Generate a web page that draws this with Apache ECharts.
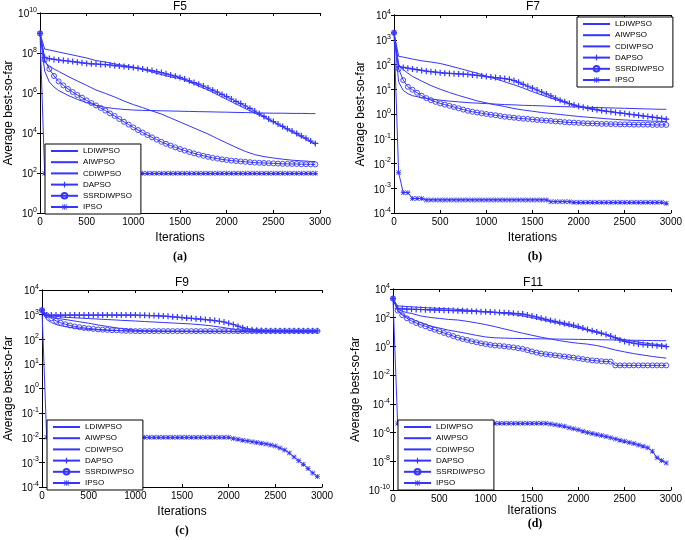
<!DOCTYPE html>
<html><head><meta charset="utf-8">
<script src="https://cdn.jsdelivr.net/npm/echarts@6/dist/echarts.min.js"></script>
<style>html,body{margin:0;padding:0;background:#fff}#c{width:685px;height:540px}</style>
</head><body><div id="c"></div>
<script>
// ---------- DATA ----------
const SERIES_NAMES = ['LDIWPSO','AIWPSO','CDIWPSO','DAPSO','SSRDIWPSO','IPSO'];
const PANEL_TITLES = ['F5','F7','F9','F11'];
const PANEL_LABELS = ['(a)','(b)','(c)','(d)'];
const X_AXIS_NAME = 'Iterations';
const Y_AXIS_NAME = 'Average best-so-far';
const X_MIN = 0, X_MAX = 3000, X_STEP = 500;
const Y_MIN = [1, 1e-4, 1e-4, 1e-10];
const Y_MAX = [1e10, 1e4, 1e4, 1e4];
const Y_STEP_DECADES = [2, 1, 1, 2];

// iterations for marker series
const ITER_M = [0,50,100,150,200,250,300,350,400,450,500,550,600,650,700,750,800,850,900,950,1000,1050,1100,1150,1200,1250,1300,1350,1400,1450,1500,1550,1600,1650,1700,1750,1800,1850,1900,1950,2000,2050,2100,2150,2200,2250,2300,2350,2400,2450,2500,2550,2600,2650,2700,2750,2800,2850,2900,2950];
// iterations for plain line series
const ITER_L = [0,50,100,150,200,300,400,500,600,700,800,900,1000,1100,1200,1300,1400,1500,1600,1700,1800,1900,2000,2100,2200,2300,2400,2500,2600,2700,2800,2900,2950];

// F5
const f5_LDIWPSO = [9.55e8,1.58e8,1.41e8,1.26e8,1.12e8,8.91e7,7.08e7,5.62e7,4.17e7,3.55e7,2.82e7,2.4e7,2e7,1.51e7,1.12e7,8.32e6,6.31e6,5.25e6,3.55e6,2.24e6,1.41e6,8.32e5,4.79e5,2.82e5,1.66e5,1e5,6.03e4,3.55e4,2e4,1.12e4,6.31e3,3.55e3,2.63e3];
const f5_AIWPSO = [9.55e8,3.55e7,2.24e7,1.58e7,1.2e7,6.76e6,3.98e6,2.4e6,1.41e6,9.55e5,6.31e5,3.98e5,2.63e5,1.86e5,1.26e5,8.91e4,5.62e4,3.55e4,2.24e4,1.41e4,8.91e3,5.25e3,3.16e3,1.91e3,1.2e3,832,661,562,490,437,407,380,372];
const f5_CDIWPSO = [9.55e8,1.26e7,3.55e6,2e6,1.32e6,7.59e5,4.79e5,3.31e5,2.4e5,1.91e5,1.66e5,1.51e5,1.41e5,1.35e5,1.32e5,1.29e5,1.26e5,1.23e5,1.2e5,1.17e5,1.15e5,1.12e5,1.1e5,1.07e5,1.05e5,1.02e5,1e5,9.77e4,9.77e4,9.55e4,9.55e4,9.33e4,9.33e4];
const f5_DAPSO = [9.55e8,6.03e7,5.25e7,4.79e7,4.47e7,4.17e7,3.98e7,3.72e7,3.47e7,3.24e7,3.02e7,2.88e7,2.82e7,2.69e7,2.63e7,2.51e7,2.34e7,2.24e7,2.09e7,2e7,1.86e7,1.74e7,1.58e7,1.45e7,1.32e7,1.17e7,1.05e7,9.12e6,7.94e6,6.92e6,6.03e6,5.01e6,4.07e6,3.31e6,2.75e6,2.24e6,1.78e6,1.38e6,1.1e6,8.51e5,6.61e5,5.01e5,3.8e5,2.95e5,2.24e5,1.7e5,1.26e5,9.12e4,6.76e4,5.01e4,3.72e4,2.82e4,2.14e4,1.62e4,1.26e4,9.55e3,7.24e3,5.5e3,3.98e3,3.02e3];
const f5_SSRDIWPSO = [9.55e8,4.47e7,1.58e7,7.08e6,3.8e6,2.4e6,1.58e6,1.12e6,7.94e5,5.89e5,4.27e5,3.16e5,2.4e5,1.78e5,1.32e5,9.55e4,7.08e4,5.01e4,3.63e4,2.63e4,1.91e4,1.41e4,1.05e4,7.94e3,6.03e3,4.68e3,3.63e3,2.88e3,2.34e3,1.91e3,1.58e3,1.32e3,1.12e3,955,832,724,646,575,525,479,447,417,398,380,363,347,331,324,316,309,302,295,288,288,282,282,275,275,269,269];
const f5_IPSO = [9.55e8,96,96,96,96,96,96,96,96,96,96,96,96,96,96,96,96,96,96,96,96,96,96,96,96,96,96,96,96,96,96,96,96,96,96,96,96,96,96,96,96,96,96,96,96,96,96,96,96,96,96,96,96,96,96,96,96,96,96,96];

// F7
const f7_LDIWPSO = [1.91e3,214,200,182,166,141,126,110,89.1,70.8,56.2,44.7,33.9,26.3,20,15.1,11.2,7.94,5.89,4.37,3.31,2.63,2.09,1.78,1.51,1.32,1.17,1.05,0.933,0.832,0.741,0.661,0.617];
const f7_AIWPSO = [1.91e3,100,63.1,44.7,33.1,21.4,14.1,10,7.41,5.62,4.37,3.39,2.82,2.34,2,1.66,1.45,1.29,1.15,1.05,0.955,0.871,0.794,0.741,0.692,0.646,0.603,0.575,0.55,0.537,0.513,0.501,0.49];
const f7_CDIWPSO = [1.91e3,20,8.91,6.61,5.5,4.57,3.98,3.63,3.31,3.09,2.88,2.75,2.63,2.51,2.4,2.34,2.24,2.19,2.14,2.04,2,1.95,1.91,1.86,1.82,1.78,1.74,1.7,1.66,1.62,1.58,1.55,1.55];
const f7_DAPSO = [1.91e3,83.2,75.9,70.8,66.1,61.7,57.5,53.7,51.3,49,46.8,44.7,43.7,42.7,41.7,40.7,39.8,38,36.3,34.7,32.4,30.9,29.5,28.2,26.9,25.1,22.4,19.1,15.8,13.2,11.2,9.33,7.76,6.46,5.37,4.37,3.63,3.09,2.63,2.29,2.04,1.86,1.7,1.58,1.48,1.38,1.29,1.23,1.15,1.1,1.05,0.977,0.933,0.891,0.832,0.794,0.741,0.708,0.661,0.617];
const f7_SSRDIWPSO = [1.91e3,66.1,23.4,12.6,9.55,7.24,5.5,4.37,3.63,3.09,2.69,2.4,2.14,1.91,1.7,1.51,1.35,1.23,1.15,1.07,1,0.933,0.891,0.832,0.776,0.741,0.708,0.676,0.646,0.631,0.603,0.575,0.562,0.537,0.525,0.501,0.49,0.468,0.457,0.447,0.437,0.427,0.417,0.417,0.407,0.398,0.398,0.389,0.389,0.38,0.38,0.38,0.372,0.372,0.372,0.372,0.363,0.363,0.363,0.363];
const f7_IPSO = [1.91e3,4.37e-3,6.61e-4,6.61e-4,3.89e-4,3.89e-4,3.89e-4,3.39e-4,3.39e-4,3.39e-4,3.39e-4,3.39e-4,3.39e-4,3.39e-4,3.39e-4,3.39e-4,3.39e-4,3.39e-4,3.39e-4,3.39e-4,3.39e-4,3.39e-4,3.39e-4,3.39e-4,3.39e-4,3.39e-4,3.39e-4,3.39e-4,3.39e-4,3.39e-4,3.39e-4,3.39e-4,3.39e-4,3.39e-4,2.88e-4,2.88e-4,2.88e-4,2.88e-4,2.88e-4,2.69e-4,2.69e-4,2.69e-4,2.69e-4,2.69e-4,2.69e-4,2.69e-4,2.69e-4,2.69e-4,2.69e-4,2.69e-4,2.69e-4,2.69e-4,2.69e-4,2.69e-4,2.69e-4,2.69e-4,2.69e-4,2.69e-4,2.69e-4,2.45e-4];

// F9
const f9_LDIWPSO = [1.51e3,1e3,891,851,813,759,724,692,661,631,603,575,550,525,501,479,457,437,417,389,355,316,275,240,219,214,209,204,204,200,200,200,200];
const f9_AIWPSO = [1.51e3,891,794,724,676,589,513,447,380,331,288,257,234,219,214,209,209,209,204,204,204,204,204,200,200,200,200,200,200,200,200,200,200];
const f9_CDIWPSO = [1.51e3,631,479,398,355,302,269,251,240,229,224,219,214,214,214,209,209,209,209,209,209,209,209,204,204,204,204,204,204,204,204,204,204];
const f9_DAPSO = [1.51e3,933,955,955,955,955,955,955,955,955,955,955,955,955,955,955,955,955,955,955,955,933,933,912,912,891,871,851,813,794,759,724,708,676,661,631,603,575,537,501,447,398,339,295,263,245,234,229,224,224,219,219,219,219,219,219,219,219,219,219];
const f9_SSRDIWPSO = [1.51e3,955,708,562,468,407,363,331,309,288,275,263,251,245,240,234,229,224,219,219,214,214,214,214,214,214,214,214,214,214,214,214,214,214,214,214,214,214,214,214,214,214,214,214,214,214,214,214,214,214,214,214,214,214,214,214,214,214,214,214];
const f9_IPSO = [1.51e3,1.05e-2,1.05e-2,1.05e-2,1.05e-2,1.05e-2,1.05e-2,1.05e-2,1.05e-2,1.05e-2,1.05e-2,1.05e-2,1.05e-2,1.05e-2,1.05e-2,1.05e-2,1.05e-2,1.05e-2,1.05e-2,1.05e-2,1.05e-2,1.05e-2,1.05e-2,1.05e-2,1.05e-2,1.05e-2,1.05e-2,1.05e-2,1.05e-2,1.05e-2,1.05e-2,1.05e-2,1.05e-2,1.05e-2,1.05e-2,1.05e-2,1.05e-2,1.05e-2,1.05e-2,1.05e-2,1.05e-2,9.33e-3,8.71e-3,7.94e-3,7.41e-3,6.92e-3,6.46e-3,6.03e-3,5.62e-3,5.13e-3,4.57e-3,3.8e-3,3.16e-3,2.4e-3,1.66e-3,1.17e-3,8.32e-4,5.62e-4,3.72e-4,2.69e-4];

// F11
const f11_LDIWPSO = [2.14e3,661,631,603,575,525,479,447,417,380,339,302,263,229,200,166,132,100,72.4,52.5,38,26.9,19.1,13.2,9.12,6.31,4.17,2.88,2.24,1.78,1.48,1.26,1.17];
const f11_AIWPSO = [2.14e3,398,282,224,200,132,105,89.1,75.9,69.2,56.2,43.7,33.1,24,16.6,11.7,8.32,6.03,4.37,3.31,2.51,2,1.66,1.45,1.15,0.832,0.562,0.417,0.316,0.251,0.2,0.166,0.155];
const f11_CDIWPSO = [2.14e3,316,178,112,83.2,44.7,26.3,19.1,13.5,10.5,7.94,5.89,4.57,3.98,3.8,3.63,3.55,3.47,3.39,3.31,3.24,3.16,3.09,3.02,2.95,2.88,2.82,2.75,2.69,2.63,2.57,2.51,2.51];
const f11_DAPSO = [2.14e3,447,417,398,389,380,372,363,355,347,339,331,324,316,309,302,288,282,275,263,257,251,240,229,224,214,204,191,178,155,132,112,93.3,77.6,64.6,55,46.8,39.8,34.7,29.5,24,19.1,15.1,12.6,10.2,8.32,6.76,5.25,3.98,2.82,2.24,1.91,1.66,1.48,1.35,1.26,1.2,1.12,1.05,0.977];
const f11_SSRDIWPSO = [2.14e3,316,151,91.2,60.3,42.7,32.4,25.1,18.6,14.5,11.2,8.71,6.76,5.25,4.07,3.31,2.82,2.29,1.95,1.66,1.45,1.29,1.17,1.1,1.02,0.933,0.851,0.759,0.676,0.55,0.447,0.372,0.316,0.288,0.263,0.24,0.219,0.2,0.182,0.166,0.148,0.132,0.117,0.107,0.1,0.0933,0.0891,0.0871,0.0479,0.0479,0.0479,0.0479,0.0479,0.0479,0.0479,0.0479,0.0479,0.0479,0.0479,0.0479];
const f11_IPSO = [2.14e3,4.47e-6,4.47e-6,4.47e-6,4.47e-6,4.47e-6,4.47e-6,4.47e-6,4.47e-6,4.47e-6,4.47e-6,4.47e-6,4.47e-6,4.47e-6,4.47e-6,4.47e-6,4.47e-6,4.47e-6,4.47e-6,4.47e-6,4.47e-6,4.47e-6,4.47e-6,4.47e-6,4.47e-6,4.47e-6,4.47e-6,4.47e-6,4.47e-6,4.47e-6,4.47e-6,4.47e-6,4.47e-6,4.47e-6,3.98e-6,3.47e-6,3.16e-6,2.75e-6,2.19e-6,1.82e-6,1.55e-6,1.26e-6,1.02e-6,8.51e-7,7.24e-7,6.17e-7,5.25e-7,4.37e-7,3.63e-7,2.95e-7,2.45e-7,2.04e-7,1.74e-7,1.38e-7,1.12e-7,8.71e-8,5.01e-8,1.78e-8,1.12e-8,7.59e-9];

const PANEL_DATA = [
  [f5_LDIWPSO, f5_AIWPSO, f5_CDIWPSO, f5_DAPSO, f5_SSRDIWPSO, f5_IPSO],
  [f7_LDIWPSO, f7_AIWPSO, f7_CDIWPSO, f7_DAPSO, f7_SSRDIWPSO, f7_IPSO],
  [f9_LDIWPSO, f9_AIWPSO, f9_CDIWPSO, f9_DAPSO, f9_SSRDIWPSO, f9_IPSO],
  [f11_LDIWPSO, f11_AIWPSO, f11_CDIWPSO, f11_DAPSO, f11_SSRDIWPSO, f11_IPSO]
];
const SERIES_ITERS = [ITER_L, ITER_L, ITER_L, ITER_M, ITER_M, ITER_M];

// ---------- LAYOUT / STYLE ----------
const LAYOUT = [
  {grid:{left:40, top:13, width:280, height:200}, title:[180,7], sub:[180,257], legend:{left:45, top:144}, yGap:25, xGap:19},
  {grid:{left:394, top:15, width:279, height:198}, title:[533,7], sub:[535,257], legend:{left:577, top:17}, yGap:27, xGap:19},
  {grid:{left:42, top:290, width:280, height:197}, title:[182,283], sub:[182,531], legend:{left:47, top:420}, yGap:27, xGap:19},
  {grid:{left:393, top:289, width:280, height:201}, title:[533,283], sub:[535,524], legend:{left:398, top:420}, yGap:31, xGap:11}
];
const BLUE = '#3535ff';
const FONT = 'Liberation Sans';
const SYM_PLUS = 'path://M4,0L6,0L6,4L10,4L10,6L6,6L6,10L4,10L4,6L0,6L0,4L4,4Z';
const SYM_STAR = 'path://M4.3,0L5.7,0L5.7,10L4.3,10Z M0,4.3L10,4.3L10,5.7L0,5.7Z M1,0L10,9L9,10L0,1Z M9,0L10,1L1,10L0,9Z';
const SERIES_STYLE = [
  {symbol:'rect', showSymbol:false, itemStyle:{color:'rgba(0,0,0,0)'}},
  {symbol:'rect', showSymbol:false, itemStyle:{color:'rgba(0,0,0,0)'}},
  {symbol:'rect', showSymbol:false, itemStyle:{color:'rgba(0,0,0,0)'}},
  {symbol:SYM_PLUS, symbolSize:6, itemStyle:{color:BLUE}},
  {symbol:'circle', symbolSize:5, itemStyle:{color:'rgba(255,255,255,0)', borderColor:BLUE, borderWidth:0.9}},
  {symbol:SYM_STAR, symbolSize:5, itemStyle:{color:BLUE}}
];

function expLabel(v){
  const e = Math.round(Math.log10(v));
  return '{b|10}{s|' + e + '}';
}
const yLabelRich = {
  b:{fontSize:10, fontFamily:FONT, color:'#000', verticalAlign:'bottom', lineHeight:13},
  s:{fontSize:7, fontFamily:FONT, color:'#000', verticalAlign:'top', lineHeight:13}
};

const grids = [], xAxes = [], yAxes = [], series = [], legends = [], graphics = [];
LAYOUT.forEach((L, p) => {
  grids.push(Object.assign({containLabel:false}, L.grid));
  const common = {gridIndex:p, splitLine:{show:false}, axisLine:{show:true, lineStyle:{color:'#000', width:1}},
                  axisTick:{show:true, inside:true, length:3, lineStyle:{color:'#000'}}};
  xAxes.push(Object.assign({}, common, {type:'value', position:'bottom', min:X_MIN, max:X_MAX, interval:X_STEP,
    name:X_AXIS_NAME, nameLocation:'middle', nameGap:L.xGap,
    nameTextStyle:{fontFamily:FONT, fontSize:12, color:'#000'},
    axisLabel:{fontFamily:FONT, fontSize:10, color:'#000', margin:4, formatter:(v)=>String(v)}}));
  xAxes.push(Object.assign({}, common, {type:'value', position:'top', min:X_MIN, max:X_MAX, interval:X_STEP, axisLabel:{show:false}}));
  const logAxis = {type:'log', logBase:10, min:Y_MIN[p], max:Y_MAX[p], interval:Y_STEP_DECADES[p], splitNumber: Math.round(Math.log10(Y_MAX[p]/Y_MIN[p]))/Y_STEP_DECADES[p], minorTick:{show:false}};
  yAxes.push(Object.assign({}, common, logAxis, {position:'left',
    name:Y_AXIS_NAME, nameLocation:'middle', nameGap:L.yGap, nameRotate:90,
    nameTextStyle:{fontFamily:FONT, fontSize:12, color:'#000'},
    axisLabel:{formatter:expLabel, rich:yLabelRich, margin:3}}));
  yAxes.push(Object.assign({}, common, logAxis, {position:'right', axisLabel:{show:false}}));

  SERIES_NAMES.forEach((name, k) => {
    const its = SERIES_ITERS[k];
    const vals = PANEL_DATA[p][k];
    series.push(Object.assign({
      type:'line', name:name, xAxisIndex:2*p, yAxisIndex:2*p,
      data: vals.map((v, i) => [its[i], v]),
      showAllSymbol:true, silent:true, animation:false,
      lineStyle:{color:BLUE, width:1},
      emphasis:{disabled:true}, z:2
    }, SERIES_STYLE[k]));
  });

  legends.push({
    left:L.legend.left, top:L.legend.top, orient:'vertical', align:'left',
    data:SERIES_NAMES, itemWidth:27, itemHeight:7, itemGap:3.2,
    padding:[3,9,3,5], backgroundColor:'#fff', borderColor:'#000', borderWidth:1,
    textStyle:{fontFamily:FONT, fontSize:8, color:'#000'}, selectedMode:false, z:10
  });

  graphics.push({type:'text', x:L.title[0], y:L.title[1],
    style:{text:PANEL_TITLES[p], font:'12px "Liberation Sans"', fill:'#000', align:'center', verticalAlign:'middle'}});
  graphics.push({type:'text', x:L.sub[0], y:L.sub[1],
    style:{text:PANEL_LABELS[p], font:'bold 12px "Liberation Serif"', fill:'#000', align:'center', verticalAlign:'middle'}});
});

const chart = echarts.init(document.getElementById('c'), null, {renderer:'canvas'});
chart.setOption({
  animation:false, backgroundColor:'#fff',
  grid:grids, xAxis:xAxes, yAxis:yAxes, series:series, legend:legends, graphic:graphics
});
</script></body></html>
